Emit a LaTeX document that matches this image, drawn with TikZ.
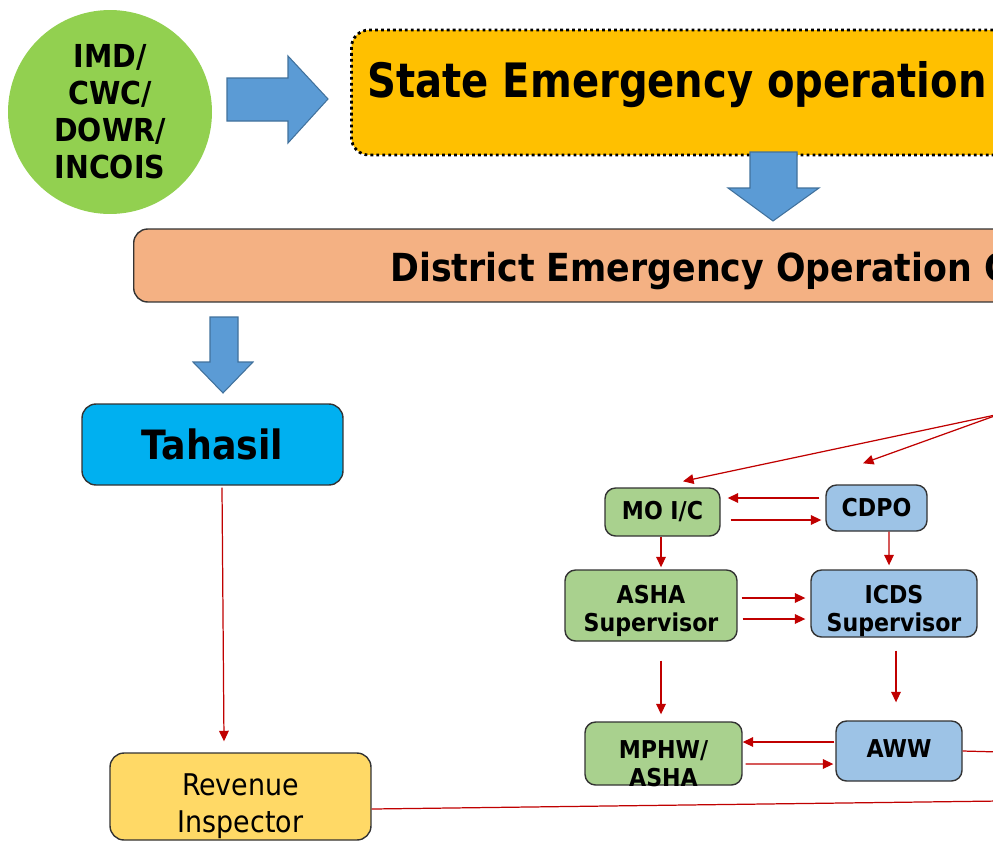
\documentclass[tikz,border=0pt]{standalone}
\usepackage{fontspec}
\setmainfont{DejaVu Sans Condensed}
\usetikzlibrary{arrows.meta}
\definecolor{srcgreen}{HTML}{92D050}
\definecolor{arrowblue}{HTML}{5B9BD5}
\definecolor{arrowedge}{HTML}{41719C}
\definecolor{stateyellow}{HTML}{FFC000}
\definecolor{distorange}{HTML}{F4B183}
\definecolor{tahasilblue}{HTML}{00B0F0}
\definecolor{riyellow}{HTML}{FFD966}
\definecolor{boxgreen}{HTML}{A9D18E}
\definecolor{boxblue}{HTML}{9DC3E6}
\definecolor{linered}{HTML}{C00000}
\definecolor{edge}{HTML}{333333}
% text block moved down inside its box
\newcommand{\dropbox}[2]{\raisebox{-#1}[0pt][0pt]{\begin{tabular}{@{}c@{}}#2\end{tabular}}}
\begin{document}
\begin{tikzpicture}[x=0.02cm,y=-0.02cm]
	\tikzstyle{rect1} = [rectangle,rounded corners=6pt,line width=0.8pt,fill=boxgreen,
	inner sep=2pt,align=center,draw=edge,font=\bfseries\fontsize{14}{16}\selectfont]
	\tikzstyle{rect2} = [rect1,fill=boxblue]
	\tikzstyle{rect3} = [rectangle,rounded corners=8pt,line width=0.8pt,inner sep=2pt,
	align=center,draw=edge]
	\tikzstyle{barrow} = [fill=arrowblue,draw=arrowedge,line width=0.6pt]
	\tikzstyle{line1} = [draw=linered,line width=0.7pt,-{Triangle[length=6pt,width=5.5pt]}]
	\tikzstyle{line2} = [draw=linered,line width=0.7pt]
	\useasboundingbox (0,0) rectangle (993,842);
	\clip (0,0) rectangle (993,842);
	% top row
	\node (node1) [circle,fill=srcgreen,minimum size=4.08cm,align=center,
	font=\bfseries\fontsize{18}{21}\selectfont] at (110,112) {IMD/\\CWC/\\DOWR/\\INCOIS};
	\node (node2) [rect3,anchor=west,fill=stateyellow,minimum width=20cm,minimum height=2.5cm,
	rounded corners=10pt,draw=black,line width=1.6pt,dash pattern=on 1.6pt off 1.8pt] at (350,92.5) {};
	\node (node2t) [anchor=base west,inner sep=0pt,font=\bfseries\fontsize{27}{32}\selectfont]
	at (367,97) {\scalebox{0.94}[1]{State Emergency operation}};
	\filldraw[barrow] (227,78) -- (288,78) -- (288,56) -- (328,99) -- (288,143) -- (288,121) -- (227,121) -- cycle;
	\filldraw[barrow] (750,152) -- (797,152) -- (797,188) -- (819,188) -- (773,221) -- (728,188) -- (750,188) -- cycle;
	% district
	\node (node3) [rect3,anchor=west,fill=distorange,minimum width=20cm,minimum height=1.46cm] at (133,265.5) {};
	\node (node3t) [anchor=base west,inner sep=0pt,font=\bfseries\fontsize{22}{26}\selectfont]
	at (390,281) {District Emergency Operation C};
	\filldraw[barrow] (210,317) -- (238,317) -- (238,362) -- (253,362) -- (223,393) -- (193,362) -- (210,362) -- cycle;
	% left branch
	\node (node4) [rect3,fill=tahasilblue,minimum width=5.22cm,minimum height=1.62cm,
	font=\bfseries\fontsize{23}{27}\selectfont] at (212.5,444.5) {Tahasil};
	\node (node5) [rect3,fill=riyellow,minimum width=5.22cm,minimum height=1.74cm,
	font=\fontsize{17}{21}\selectfont] at (240.5,796.5) {\dropbox{0.36cm}{Revenue\\Inspector}};
	% health and icds boxes
	\node (node6) [rect1,minimum width=2.3cm,minimum height=0.96cm] at (662.5,512) {MO I/C};
	\node (node7) [rect2,minimum width=2.02cm,minimum height=0.92cm] at (876.5,508) {CDPO};
	\node (node8) [rect1,minimum width=3.44cm,minimum height=1.42cm] at (651,605.5)
	{\dropbox{0.26cm}{ASHA\\Supervisor}};
	\node (node9) [rect2,minimum width=3.32cm,minimum height=1.34cm] at (894,603.5)
	{\dropbox{0.3cm}{ICDS\\Supervisor}};
	\node (node10) [rect1,minimum width=3.14cm,minimum height=1.26cm] at (663.5,753.5)
	{\dropbox{0.4cm}{MPHW/\\ASHA}};
	\node (node11) [rect2,minimum width=2.52cm,minimum height=1.2cm] at (899,751)
	{\raisebox{0.1cm}{AWW}};
	\coordinate (src) at (1000,414);
	\coordinate (end1) at (1000,801);
	\coordinate (end2) at (1000,752);
	% connectors
	\draw[line1] (src) -- ([shift={(20.5,-6)}]node6.north);
	\draw[line1] (src) -- ([shift={(-13.5,-21)}]node7.north);
	\draw[line1] ([shift={(-6,-10)}]node7.west) -- ([shift={(7,-14)}]node6.east);
	\draw[line1] ([shift={(10,8)}]node6.east) -- ([shift={(-4,12)}]node7.west);
	\draw[line1] ([shift={(-1.5,0)}]node6.south) -- ([shift={(10,-2)}]node8.north);
	\draw[line1] ([shift={(12.5,0)}]node7.south) -- ([shift={(-5,-4)}]node9.north);
	\draw[line1] ([shift={(4,-7.5)}]node8.east) -- ([shift={(-5,-5.5)}]node9.west);
	\draw[line1] ([shift={(5,13.5)}]node8.east) -- ([shift={(-5,15.5)}]node9.west);
	\draw[line1] ([shift={(10,19)}]node8.south) -- ([shift={(-2.5,-7)}]node10.north);
	\draw[line1] ([shift={(2,13)}]node9.south) -- ([shift={(-3,-18)}]node11.north);
	\draw[line1] ([shift={(-1,-9)}]node11.west) -- ([shift={(0,-11.5)}]node10.east);
	\draw[line1] ([shift={(3,10.5)}]node10.east) -- ([shift={(-2,13)}]node11.west);
	\draw[line1] ([shift={(9.5,2)}]node4.south) -- ([shift={(-16.5,-11)}]node5.north);
	\draw[line2] ([shift={(0,12.5)}]node5.east) -- (end1);
	\draw[line2] (node11.east) -- (end2);
\end{tikzpicture}
\end{document}
